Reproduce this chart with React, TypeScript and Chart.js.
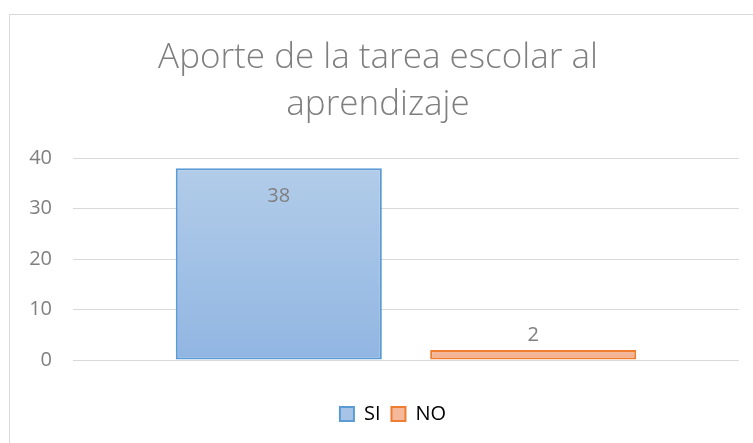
import React, { useEffect, useRef } from "react";
import { Chart, registerables } from "chart.js";

Chart.register(...registerables);

const categories = [""];
const seriesNames = ["SI", "NO"];
const siValues = [38];
const noValues = [2];
const titleLines = ["Aporte de la tarea escolar al", "aprendizaje"];
const yMin = 0;
const yMax = 40;
const yStep = 10;

const TEXT = "#7f7f7f";
const GRID = "#d9d9d9";
const FONT = "'Open Sans', 'Noto Sans', sans-serif";

function barGradient(top: string, bottom: string) {
  return (ctx: any) => {
    const chart = ctx.chart;
    const y = chart.scales?.y;
    if (!y || ctx.type !== "data") return top;
    const v = ctx.raw as number;
    const yTop = y.getPixelForValue(v);
    const yBase = y.getPixelForValue(0);
    if (!isFinite(yTop) || !isFinite(yBase) || yTop === yBase) return top;
    const g = chart.ctx.createLinearGradient(0, yTop, 0, yBase);
    g.addColorStop(0, top);
    g.addColorStop(1, bottom);
    return g;
  };
}

const valueLabels = {
  id: "valueLabels",
  afterDatasetsDraw(chart: any) {
    const ctx = chart.ctx;
    ctx.save();
    ctx.font = `20px ${FONT}`;
    ctx.fillStyle = TEXT;
    ctx.textAlign = "center";
    ctx.textBaseline = "middle";
    chart.data.datasets.forEach((ds: any, i: number) => {
      const meta = chart.getDatasetMeta(i);
      meta.data.forEach((el: any, j: number) => {
        const v = ds.data[j];
        const h = el.base - el.y;
        const y = h > 60 ? el.y + 28 : el.y - 15;
        ctx.fillText(String(v), el.x, y);
      });
    });
    ctx.restore();
  },
};

const legendShift = {
  id: "legendShift",
  afterLayout(chart: any) {
    const lg = chart.legend;
    if (lg) {
      lg.left += 15;
      lg.right += 15;
    }
  },
};

export default function App() {
  const ref = useRef<HTMLCanvasElement | null>(null);
  useEffect(() => {
    if (!ref.current) return;
    const chart = new Chart(ref.current, {
      type: "bar",
      data: {
        labels: categories,
        datasets: [
          {
            label: seriesNames[0],
            data: siValues,
            backgroundColor: barGradient("#b2cce9", "#91b6e2"),
            borderColor: "#5b9bd5",
            borderWidth: 2,
            borderSkipped: false,
          },
          {
            label: seriesNames[1],
            data: noValues,
            backgroundColor: barGradient("#f6bca1", "#f3ad8c"),
            borderColor: "#ed7d31",
            borderWidth: 2,
            borderSkipped: false,
          },
        ],
      },
      options: {
        animation: false,
        responsive: false,
        maintainAspectRatio: false,
        categoryPercentage: 0.764,
        barPercentage: 0.81,
        layout: { padding: { left: 17, right: 14, top: 0, bottom: 9 } },
        plugins: {
          title: {
            display: true,
            text: titleLines,
            color: TEXT,
            font: { family: FONT, size: 35, weight: "300" as any, lineHeight: 1.33 },
            padding: { top: 35, bottom: 30 },
          },
          legend: {
            display: true,
            position: "bottom",
            labels: {
              color: TEXT,
              font: { family: FONT, size: 20 },
              boxWidth: 14,
              boxHeight: 14,
              padding: 11,
              generateLabels: () => [
                { text: "SI", fillStyle: "#a7c4e7", strokeStyle: "#5b9bd5", lineWidth: 2, datasetIndex: 0, hidden: false },
                { text: "NO", fillStyle: "#f5b89b", strokeStyle: "#ed7d31", lineWidth: 2, datasetIndex: 1, hidden: false },
              ] as any,
            },
          },
          tooltip: { enabled: false },
        },
        scales: {
          x: {
            ticks: { display: false },
            grid: { display: false, drawTicks: false },
            border: { display: false },
            afterFit: (scale: any) => {
              scale.height = 33;
            },
          },
          y: {
            min: yMin,
            max: yMax,
            ticks: { stepSize: yStep, color: TEXT, font: { family: FONT, size: 20 }, padding: 21 },
            grid: { color: GRID, lineWidth: 1, drawTicks: false },
            border: { display: false },
            afterFit: (scale: any) => {
              scale.width = 56;
            },
          },
        },
      },
      plugins: [valueLabels, legendShift],
    });
    return () => chart.destroy();
  }, []);
  return (
    <div style={{ position: "fixed", left: 0, top: 0, width: 753, height: 443, background: "#fff", overflow: "hidden" }}>
      <div style={{ position: "absolute", left: 9, top: 14, width: 800, height: 500, border: "1px solid #d9d9d9", boxSizing: "border-box" }} />
      <canvas ref={ref} width={753} height={443} style={{ position: "absolute", left: 0, top: 0 }} />
    </div>
  );
}
